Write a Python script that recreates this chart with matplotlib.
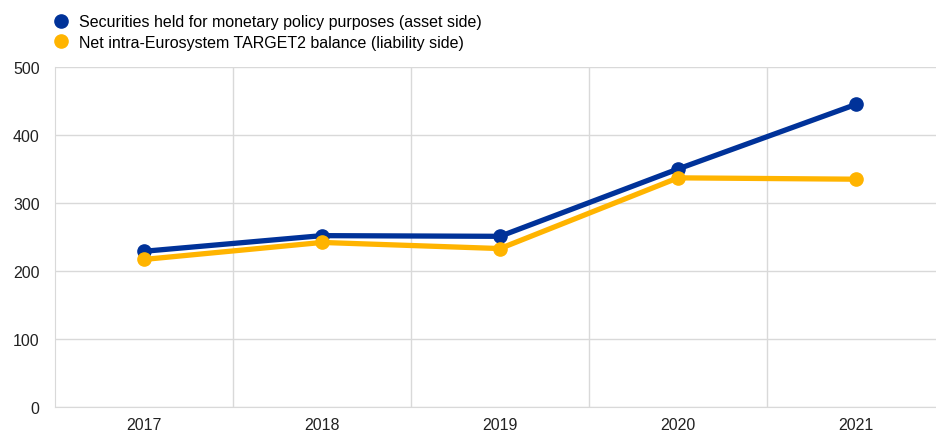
import matplotlib
matplotlib.use("Agg")
import matplotlib.pyplot as plt
from matplotlib.lines import Line2D

plt.rcParams['font.family'] = ['Liberation Sans', 'DejaVu Sans']

years = ['2017', '2018', '2019', '2020', '2021']
securities = [229, 252, 251, 350, 445]
target2 = [217, 242, 233, 337, 335]
labels = ['Securities held for monetary policy purposes (asset side)',
          'Net intra-Eurosystem TARGET2 balance (liability side)']
colors = ['#003299', '#FFB400']

fig = plt.figure(figsize=(9.37, 4.35), dpi=100)
ax = fig.add_axes([55 / 937, 27 / 435, 890 / 937, 340 / 435])

x = range(len(years))
for vals, col, lab in zip([securities, target2], colors, labels):
    ax.plot(x, vals, color=col, lw=3.8, marker='o', ms=9.5,
            solid_capstyle='round', label=lab, zorder=3)

ax.set_xlim(-0.5, len(years) - 0.5)
ax.set_ylim(0, 500)
ax.set_yticks(range(0, 501, 100))
ax.set_xticks(list(x))
ax.set_xticklabels(years)
ax.set_xticks([i + 0.5 for i in range(len(years) - 1)], minor=True)

ax.grid(axis='y', color='#d9d9d9', lw=1)
ax.grid(axis='x', which='minor', color='#d9d9d9', lw=1)
ax.set_axisbelow(True)
for s in ['top', 'right']:
    ax.spines[s].set_visible(False)
for s in ['left', 'bottom']:
    ax.spines[s].set_color('#d9d9d9')
ax.tick_params(which='both', length=0, labelsize=11.5, colors='#222222')
ax.tick_params(axis='x', pad=7.5)
ax.tick_params(axis='y', pad=11)

handles = [Line2D([], [], ls='none', marker='o', ms=9.5, color=c) for c in colors]
fig.legend(handles, labels, loc='upper left', bbox_to_anchor=(42 / 937, 1.0 - 4 / 435),
           frameon=False, fontsize=11.5, handletextpad=0.6, labelspacing=0.35,
           handlelength=1.0, borderaxespad=0.3)

fig.savefig('out.png', dpi=100)
